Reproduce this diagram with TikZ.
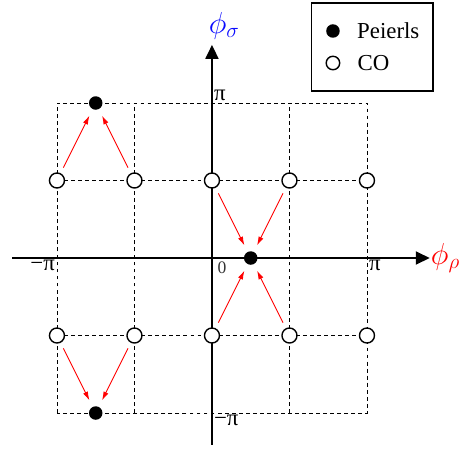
\documentclass[tikz,border=0pt]{standalone}
\usepackage{fontspec}
\setmainfont{Liberation Serif}
\usepackage{tikz}
\usetikzlibrary{arrows.meta, positioning}
\definecolor{flowred}{RGB}{255, 0, 0}
\definecolor{sigmablue}{RGB}{10, 10, 255}

\begin{document}
\begin{tikzpicture}[x=1.55cm, y=1.55cm,
    co/.style={circle, draw, line width=0.8pt, fill=white,
               minimum size=0.3cm, inner sep=0pt},
    peierls/.style={circle, fill=black, minimum size=0.27cm, inner sep=0pt},
    gridline/.style={dash pattern=on 2.2pt off 1.8pt, line width=0.5pt},
    axis/.style={-{Triangle[length=0.28cm, width=0.26cm]}, line width=1.1pt},
    flow/.style={-{Latex[length=5pt, width=3pt]}, line width=0.5pt, flowred,
                 shorten <=3.5pt, shorten >=4pt},
    lbl/.style={font=\fontsize{13}{15}\selectfont, inner sep=1pt}
]
    \useasboundingbox (-2.735,-2.594) rectangle (3.226,3.329);

    \draw[gridline] (-2,-2) rectangle (2,2);
    \draw[gridline] (-2,1) -- (2,1) (-2,-1) -- (2,-1)
                    (-1,-2) -- (-1,2) (1,-2) -- (1,2);

    \coordinate (xs) at (-2.58,0);
    \coordinate (xe) at (2.81,0);
    \coordinate (ys) at (0,-2.41);
    \coordinate (ye) at (0,2.75);
    \draw[axis] (xs) -- (xe);
    \draw[axis] (ys) -- (ye);
    \node[right, inner sep=0.5pt, flowred, font=\LARGE] (phirho) at (xe) {$\phi_\rho$};
    \node[sigmablue, font=\LARGE] (phisigma) at (0.16,3.0) {$\phi_\sigma$};

    \node[lbl, above right] (ltop) at (0,2) {π};
    \node[lbl, below right] (lbot) at (0,-2) {−π};
    \node[lbl, below left] (lleft) at (-2,0) {−π};
    \node[lbl, below right] (lright) at (2,0) {π};
    \node[anchor=north west, inner sep=0pt, text=black!80,
          font=\fontsize{10}{12}\selectfont] (lzero) at (0.07,-0.04) {0};

    \node[co] (u1) at (-2,1) {};
    \node[co] (u2) at (-1,1) {};
    \node[co] (u3) at (0,1) {};
    \node[co] (u4) at (1,1) {};
    \node[co] (u5) at (2,1) {};
    \node[co] (d1) at (-2,-1) {};
    \node[co] (d2) at (-1,-1) {};
    \node[co] (d3) at (0,-1) {};
    \node[co] (d4) at (1,-1) {};
    \node[co] (d5) at (2,-1) {};

    \node[peierls] (ptop) at (-1.5,2) {};
    \node[peierls] (pmid) at (0.5,0) {};
    \node[peierls] (pbot) at (-1.5,-2) {};

    \draw[flow] (u1) -- (ptop);
    \draw[flow] (u2) -- (ptop);
    \draw[flow] (u3) -- (pmid);
    \draw[flow] (u4) -- (pmid);
    \draw[flow] (d3) -- (pmid);
    \draw[flow] (d4) -- (pmid);
    \draw[flow] (d1) -- (pbot);
    \draw[flow] (d2) -- (pbot);

    \draw[line width=0.6pt] (1.29,2.155) rectangle (2.852,3.29);
    \node[peierls] (keyp) at (1.561,2.929) {};
    \node[lbl, right=0.3cm of keyp] (keyptext) {Peierls};
    \node[co, minimum size=0.27cm] (keyc) at (1.561,2.516) {};
    \node[lbl, right=0.3cm of keyc] (keyctext) {CO};
\end{tikzpicture}
\end{document}
